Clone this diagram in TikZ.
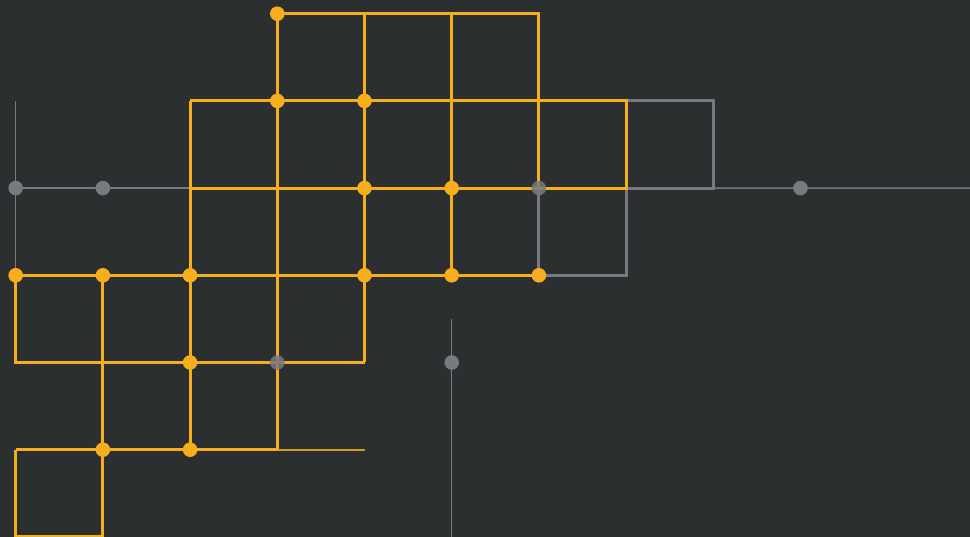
\documentclass[tikz,border=0pt]{standalone}
\definecolor{bg}{HTML}{2B2F30}
\definecolor{gold}{HTML}{F6AE1C}
\definecolor{golddim}{HTML}{D49B1E}
\definecolor{slate}{HTML}{777B80}
\begin{document}
\begin{tikzpicture}[x=1pt,y=-1pt,
  yline/.style={draw=gold,line width=2.9pt,line join=miter},
  ythin/.style={draw=golddim,line width=1.9pt},
  gline/.style={draw=slate,line width=2.9pt,line join=miter},
  gthin/.style={draw=slate,line width=1.5pt},
  ydot/.style={circle,fill=gold,inner sep=0pt,minimum size=14.6pt},
  gdot/.style={circle,fill=slate,inner sep=0pt,minimum size=14.6pt},
  gdotf/.style={circle,fill=slate,fill opacity=0.85,inner sep=0pt,minimum size=14.6pt}]
\fill[bg] (0,0) rectangle (970,537);
\useasboundingbox (0,0) rectangle (970,537);
\foreach \i in {0,...,9}{
  \foreach \j in {0,...,6}{
    \coordinate (p\i\j) at ({15.7+87.2*\i},{13.7+87.2*\j});
  }
}
\coordinate (eR) at (970,188.1);
\coordinate (vT) at (451.7,319);
\coordinate (vB) at (451.7,537);
% grey lines
\draw[gthin] (p01) -- (p03);
\draw[gthin] (p02) -- (p22);
\draw[gthin] (p82) -- (eR);
\draw[gthin] (vT) -- (vB);
\draw[gline] (p71) -- (p81) -- (p82) -- (p72);
\draw[gline] (p62) -- (p63) -- (p73) -- (p72);
% yellow lines
\draw[ythin] (p35) -- (p45);
\draw[yline] (p30) -- (p60) -- (p62);
\draw[yline] (p21) -- (p71) -- (p72) -- (p22);
\draw[yline] (p21) -- (p25);
\draw[yline] (p30) -- (p35);
\draw[yline] (p40) -- (p44);
\draw[yline] (p50) -- (p53);
\draw[yline] (p03) -- (p63);
\draw[yline] (p03) -- (p04) -- (p44);
\draw[yline] (p13) -- (p16);
\draw[yline] (p05) -- (p35);
\draw[yline] (p05) -- (p06) -- (p16);
% yellow dots
\foreach \p in {30,31,41,42,52,03,13,23,43,53,63,24,15,25}{
  \node[ydot] (d\p) at (p\p) {};
}
% grey dots
\foreach \p in {02,12,54,92}{
  \node[gdot] (d\p) at (p\p) {};
}
\foreach \p in {62,34}{
  \node[gdotf] (d\p) at (p\p) {};
}
\end{tikzpicture}
\end{document}
